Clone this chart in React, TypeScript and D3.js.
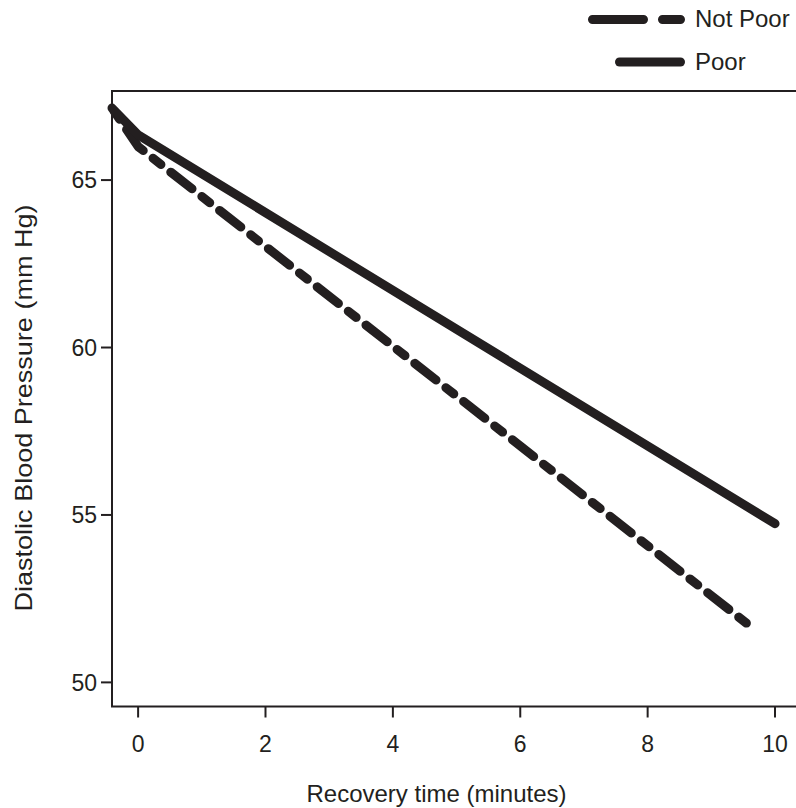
import React from 'react';
import * as d3 from 'd3';

// recovery time (minutes) and diastolic BP (mm Hg)
const notPoorTime = [-0.41, 0, 9.55];
const notPoorDbp = [67.15, 66.0, 51.77];
const poorTime = [-0.41, 0, 10];
const poorDbp = [67.15, 66.35, 54.74];

const xTicks = [0, 2, 4, 6, 8, 10];
const yTicks = [50, 55, 60, 65];

const series = [
  { name: 'Not Poor', time: notPoorTime, dbp: notPoorDbp, dash: '27 12.5 10 12.5', offset: 36 },
  { name: 'Poor', time: poorTime, dbp: poorDbp, dash: null, offset: 0 },
];

const W = 796;
const H = 808;
const ink = '#231f20';
const font = 'Liberation Sans, Arial, sans-serif';

export default function App() {
  const x = d3.scaleLinear().domain([-0.41, 10.4]).range([112, 800.5]);
  const y = d3.scaleLinear().domain([49.28, 67.66]).range([706.5, 91]);

  const line = d3
    .line<[number, number]>()
    .x(d => x(d[0]))
    .y(d => y(d[1]));

  const [x0, x1] = x.range();
  const [yb, yt] = y.range();

  return (
    <svg width={W} height={H} style={{ position: 'absolute', left: 0, top: 0 }} fontFamily={font}>
      <rect width={W} height={H} fill="#fff" />

      {/* legend */}
      <g>
        <line x1={592.5} x2={680.5} y1={19.5} y2={19.5} stroke={ink} strokeWidth={9}
          strokeLinecap="round" strokeDasharray="51 19 18 100" />
        <text x={695} y={27} fontSize={24} fill={ink}>Not Poor</text>
        <line x1={619.5} x2={680.5} y1={62} y2={62} stroke={ink} strokeWidth={9}
          strokeLinecap="round" />
        <text x={695} y={70} fontSize={24} fill={ink}>Poor</text>
      </g>

      {/* lines */}
      {series.map(s => (
        <path
          key={s.name}
          d={line(s.time.map((t, i) => [t, s.dbp[i]] as [number, number])) || ''}
          fill="none"
          stroke={ink}
          strokeWidth={9}
          strokeLinecap="round"
          strokeLinejoin="round"
          strokeDasharray={s.dash || undefined}
          strokeDashoffset={s.dash ? s.offset : undefined}
        />
      ))}

      {/* frame */}
      <rect x={x0} y={yt} width={x1 - x0} height={yb - yt} fill="none" stroke={ink} strokeWidth={2} />

      {/* x axis */}
      {xTicks.map(t => (
        <g key={'x' + t}>
          <line x1={x(t)} x2={x(t)} y1={yb} y2={yb + 11} stroke={ink} strokeWidth={2} />
          <text x={x(t)} y={752} textAnchor="middle" fontSize={23} fill={ink}>{t}</text>
        </g>
      ))}
      <text x={436.5} y={802} textAnchor="middle" fontSize={24} fill={ink}>
        Recovery time (minutes)
      </text>

      {/* y axis */}
      {yTicks.map(t => (
        <g key={'y' + t}>
          <line x1={x0 - 11} x2={x0} y1={y(t)} y2={y(t)} stroke={ink} strokeWidth={2} />
          <text x={97} y={y(t)} dy="0.36em" textAnchor="end" fontSize={23} fill={ink}>{t}</text>
        </g>
      ))}
      <text
        transform="translate(32,408) rotate(-90)"
        textAnchor="middle"
        fontSize={24}
        fill={ink}
        textLength={407}
        lengthAdjust="spacingAndGlyphs"
      >
        Diastolic Blood Pressure (mm Hg)
      </text>
    </svg>
  );
}
